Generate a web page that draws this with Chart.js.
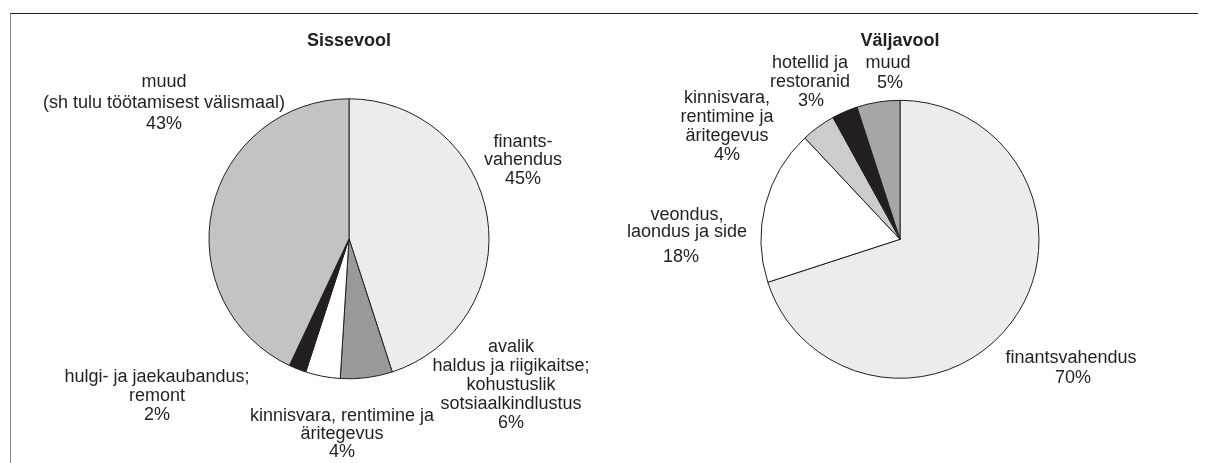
<!DOCTYPE html>
<html>
<head>
<meta charset="utf-8">
<script src="https://cdn.jsdelivr.net/npm/chart.js@4.4.1/dist/chart.umd.min.js"></script>
<style>
  body { margin: 0; background: #fff; }
  #wrap { position: relative; width: 1208px; height: 463px; overflow: hidden; }
  #frame { position: absolute; left: 10px; top: 13px; width: 1187px; height: 460px;
           border-top: 1px solid #231f20; border-left: 1px solid #8a8a8a; }
  canvas { position: absolute; left: 0; top: 0; }
</style>
</head>
<body>
<div id="wrap">
  <div id="frame"></div>
  <canvas id="inflow" width="1208" height="463"></canvas>
  <canvas id="outflow" width="1208" height="463"></canvas>
</div>
<script>
// Sissevool
const inflowLabels = [
    ["finants-", "vahendus"],
    ["avalik", "haldus ja riigikaitse;", "kohustuslik", "sotsiaalkindlustus"],
    ["kinnisvara, rentimine ja", "äritegevus"],
    ["hulgi- ja jaekaubandus;", "remont"],
    ["muud", "(sh tulu töötamisest välismaal)"]
];
const inflowValues = [45, 6, 4, 2, 43];
const inflowColors = ["#ececec", "#999999", "#ffffff", "#231f20", "#c3c3c3"];

// Väljavool
const outflowLabels = [
    ["finantsvahendus"],
    ["veondus,", "laondus ja side"],
    ["kinnisvara,", "rentimine ja", "äritegevus"],
    ["hotellid ja", "restoranid"],
    ["muud"]
];
const outflowValues = [70, 18, 4, 3, 5];
const outflowColors = ["#ececec", "#ffffff", "#cccccc", "#231f20", "#a6a6a6"];

// where the text sits, relative to the pie centre:
// [dx, dy of first line, line height, extra gap before %, dx of %]
const inflowLabelPos = [[174, -97, 18.5, 0, 0], [162, 108, 19, 0, 0], [-7, 177.5, 18, 0, 0], [-192, 138.5, 19, 0, 0], [-185, -157, 21, 0, 0]];
const outflowLabelPos = [[171, 119, 20, 0, 2], [-213, -24, 17, 8, -6], [-173, -141, 19, 0, 0], [-90, -176, 19, 0, 1], [-12, -176, 19.7, 0, 2]];

const FONT = "'Liberation Sans', Arial, Helvetica, sans-serif";
const INK = "#231f20";

// text next to the slices
const sliceLabels = {
    id: "sliceLabels",
    afterDatasetsDraw(chart, args, opts) {
        const ctx = chart.ctx;
        const centre = chart.getDatasetMeta(0).data[0];
        const values = chart.data.datasets[0].data;
        ctx.save();
        ctx.font = "18px " + FONT;
        ctx.fillStyle = INK;
        ctx.textAlign = "center";
        ctx.textBaseline = "middle";
        chart.data.labels.forEach((lines, i) => {
            const [dx, dy, lh, gap, pdx] = opts.positions[i];
            const x = centre.x + dx;
            let y = centre.y + dy;
            lines.forEach((line) => {
                ctx.fillText(line, x, y);
                y += lh;
            });
            ctx.fillText(values[i] + "%", x + pdx, y + gap);
        });
        ctx.restore();
    }
};

function createPie(id, title, labels, values, colors, padding, radius, positions) {
    return new Chart(document.getElementById(id), {
        type: "pie",
        data: {
            labels: labels,
            datasets: [{
                data: values,
                backgroundColor: colors,
                borderColor: INK,
                borderWidth: 1,
                radius: radius
            }]
        },
        options: {
            responsive: false,
            animation: false,
            events: [],
            radius: radius,
            layout: { padding: padding },
            plugins: {
                legend: { display: false },
                tooltip: { enabled: false },
                title: {
                    display: true,
                    text: title,
                    color: INK,
                    font: { family: FONT, size: 18, weight: "bold", lineHeight: 1.2 },
                    padding: { top: 10, bottom: 10 }
                },
                sliceLabels: { positions: positions }
            }
        },
        plugins: [sliceLabels]
    });
}

createPie("inflow", "Sissevool", inflowLabels, inflowValues, inflowColors,
    { left: 150, right: 660, top: 20, bottom: 47 }, 140, inflowLabelPos);
createPie("outflow", "Väljavool", outflowLabels, outflowValues, outflowColors,
    { left: 700, right: 108, top: 20, bottom: 46 }, 139, outflowLabelPos);
</script>
</body>
</html>
